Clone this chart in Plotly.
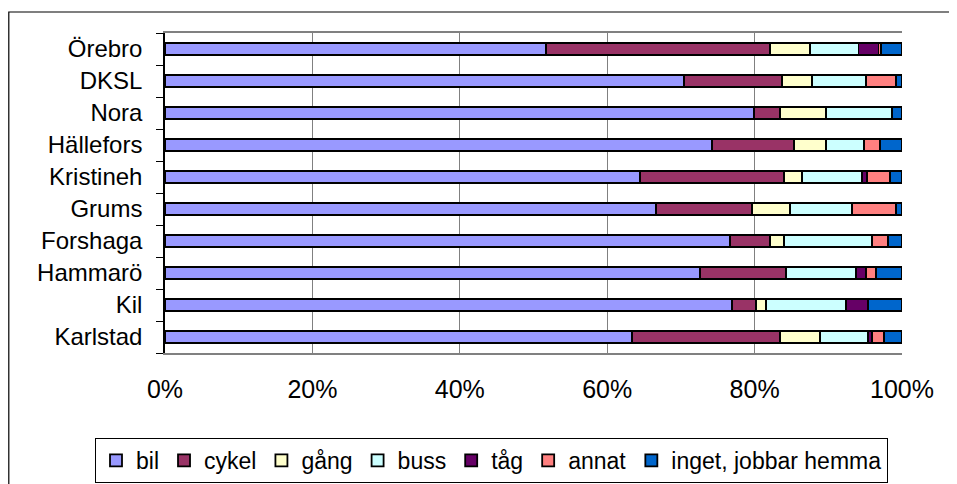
import plotly.graph_objects as go

categories = ["Örebro", "DKSL", "Nora", "Hällefors", "Kristineh", "Grums",
              "Forshaga", "Hammarö", "Kil", "Karlstad"]
series_names = ["bil", "cykel", "gång", "buss", "tåg", "annat", "inget, jobbar hemma"]
bil   = [51.7, 70.4, 79.9, 74.2, 64.4, 66.6, 76.7, 72.6, 76.9, 63.4]
cykel = [30.4, 13.3, 3.5, 11.1, 19.6, 13.0, 5.4, 11.7, 3.3, 20.0]
gang  = [5.4, 4.1, 6.3, 4.4, 2.4, 5.2, 1.9, 0.0, 1.4, 5.5]
buss  = [6.6, 7.3, 8.9, 5.1, 8.2, 8.4, 11.9, 9.5, 10.8, 6.5]
tag   = [2.7, 0.0, 0.0, 0.0, 0.7, 0.0, 0.0, 1.3, 3.0, 0.5]
annat = [0.4, 4.1, 0.0, 2.2, 3.1, 6.0, 2.2, 1.4, 0.0, 1.7]
inget = [2.8, 0.8, 1.4, 3.0, 1.6, 0.8, 1.9, 3.5, 4.6, 2.4]
x_ticks = [0, 20, 40, 60, 80, 100]
x_tick_labels = ["0%", "20%", "40%", "60%", "80%", "100%"]

colors = ["#9999FF", "#993366", "#FFFFCC", "#CCFFFF", "#660066", "#FF8080", "#0066CC"]
values = [bil, cykel, gang, buss, tag, annat, inget]

# page has an 8px body margin; work in figure coordinates
OFF = 8
W, H = 957 - OFF, 484 - OFF
L, T = 165 - OFF, 33 - OFF
pw, ph = 737, 320
R, B = W - L - pw, H - T - ph

fig = go.Figure()
for name, vals, col in zip(series_names, values, colors):
    fig.add_trace(go.Bar(
        y=categories, x=vals, name=name, orientation="h",
        marker=dict(color=col, line=dict(color="black", width=1.8)),
        hoverinfo="x+y+name",
    ))

def px_x(v):
    return (v - OFF - L) / pw

def px_y(v):
    return (T + ph - (v - OFF)) / ph

fig.update_layout(
    width=W, height=H,
    barmode="stack", bargap=0.62,
    margin=dict(l=L, r=R, t=T, b=B, autoexpand=False),
    paper_bgcolor="white", plot_bgcolor="white",
    font=dict(family="Liberation Sans, Arial, sans-serif", size=23, color="black"),
    xaxis=dict(range=[0, 100], tickvals=x_ticks, ticktext=x_tick_labels,
               showgrid=True, gridcolor="#808080", gridwidth=1.2,
               showline=True, linecolor="#808080", linewidth=1.5, mirror=True,
               zeroline=False, ticks="", ticklabelstandoff=13,
               tickfont=dict(size=25), automargin=False),
    yaxis=dict(categoryorder="array", categoryarray=categories, autorange="reversed",
               tickmode="array", tickvals=categories,
               showline=True, linecolor="black", linewidth=1.5,
               ticks="outside", tickson="boundaries", ticklen=7, tickcolor="black",
               ticklabelstandoff=16, tickfont=dict(size=24), showgrid=False,
               automargin=False),
    legend=dict(orientation="h", xref="paper", yref="paper",
                x=px_x(95), y=px_y(438),
                xanchor="left", yanchor="top",
                bordercolor="black", borderwidth=1, bgcolor="white",
                font=dict(size=23), traceorder="normal", itemwidth=30,
                tracegroupgap=0),
    showlegend=True,
    shapes=[dict(type="rect", xref="paper", yref="paper",
                 x0=(0.8 - L) / pw, x1=px_x(953), y0=px_y(490), y1=px_y(12),
                 line=dict(color="black", width=1.2), fillcolor="rgba(0,0,0,0)",
                 layer="below")],
)

fig.write_html("out.html")
